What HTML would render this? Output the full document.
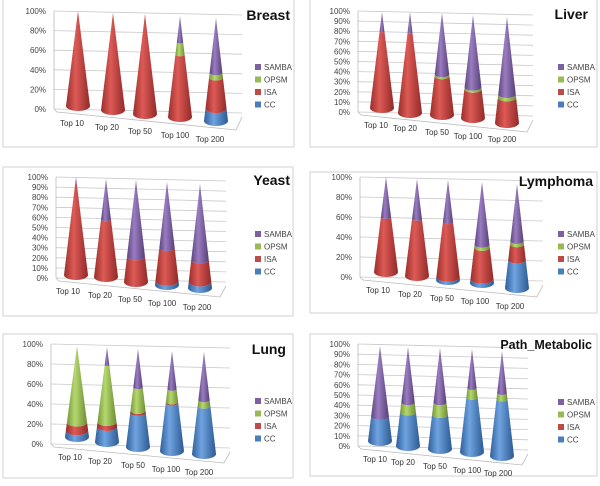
<!DOCTYPE html>
<html><head><meta charset="utf-8"><style>
html,body{margin:0;padding:0;background:#fff;}
svg{display:block;font-family:"Liberation Sans",sans-serif;}
</style></head><body>
<svg id="c" width="600" height="486" viewBox="0 0 600 486">
<defs>
<linearGradient id="g0" x1="0" x2="1"><stop offset="0" stop-color="#2f5f9a"/><stop offset="0.4" stop-color="#6fa3e0"/><stop offset="1" stop-color="#2d5a92"/></linearGradient>
<linearGradient id="g1" x1="0" x2="1"><stop offset="0" stop-color="#9a2e2b"/><stop offset="0.4" stop-color="#dd5a56"/><stop offset="1" stop-color="#922a28"/></linearGradient>
<linearGradient id="g2" x1="0" x2="1"><stop offset="0" stop-color="#78973a"/><stop offset="0.4" stop-color="#b4d86e"/><stop offset="1" stop-color="#6f8c34"/></linearGradient>
<linearGradient id="g3" x1="0" x2="1"><stop offset="0" stop-color="#5d4580"/><stop offset="0.4" stop-color="#9a7cc0"/><stop offset="1" stop-color="#574078"/></linearGradient>
</defs>
</svg>
<script>
const categories = ["Top 10","Top 20","Top 50","Top 100","Top 200"];
const seriesNames = ["SAMBA","OPSM","ISA","CC"];
const breastCC = [0,0,0,0,12];
const breastISA = [100,100,100,62,30];
const breastOPSM = [0,0,0,12,5];
const breastSAMBA = [0,0,0,26,53];
const liverCC = [0,0,0,0,0];
const liverISA = [80,80,38,28,24];
const liverOPSM = [0,0,2,2,3];
const liverSAMBA = [20,20,60,70,73];
const yeastCC = [0,0,0,4,6];
const yeastISA = [94,59,25,32,21];
const yeastOPSM = [0,0,0,0,0];
const yeastSAMBA = [6,41,75,64,73];
const lymphCC = [0,0,3,4,27];
const lymphISA = [58,59,55,31,15];
const lymphOPSM = [0,0,0,3,3];
const lymphSAMBA = [42,41,42,62,55];
const lungCC = [7,16,35,48,47];
const lungISA = [9,5,2,1,0];
const lungOPSM = [84,60,24,13,6];
const lungSAMBA = [0,19,39,38,47];
const pathCC = [26,34,34,53,54];
const pathISA = [0,0,0,0,0];
const pathOPSM = [0,10,12,9,6];
const pathSAMBA = [74,56,54,38,40];
const step20 = [0,20,40,60,80,100];
const step10 = [0,10,20,30,40,50,60,70,80,90,100];

const panels = [
 {name:"breast",title:"Breast",data:[breastCC,breastISA,breastOPSM,breastSAMBA],ticks:step20,box:[3,-2,291,149],lx:46,y0:109,y100:11,cx:[78,113,145,180,216],by:[106,110,114,117,121],ay:[11,13,14,16,18],leg:[255,67],tt:[290,20],cl:[[72,126],[107,130],[140,134],[175,138],[210,142]]},
 {name:"liver",title:"Liver",data:[liverCC,liverISA,liverOPSM,liverSAMBA],ticks:step10,box:[310,-2,287,149],lx:350,y0:112,y100:11,cx:[382,410,442,473,507],by:[108,113,115,118,123],ay:[12,12,13,15,17],leg:[558,67],tt:[588,19],cl:[[376,128],[405,131],[437,135],[468,139],[502,142]]},
 {name:"yeast",title:"Yeast",data:[yeastCC,yeastISA,yeastOPSM,yeastSAMBA],ticks:step10,box:[3,167,290,149],lx:48,y0:278,y100:177,cx:[76,106,136,167,200],by:[275,277,282,285,288],ay:[177,179,180,182,184],leg:[255,234],tt:[290,185],cl:[[68,294],[100,298],[130,302],[162,306],[197,310]]},
 {name:"lymphoma",title:"Lymphoma",data:[lymphCC,lymphISA,lymphOPSM,lymphSAMBA],ticks:step20,box:[310,172,287,141],lx:352,y0:277,y100:177,cx:[386,417,448,482,517],by:[272,276,280,283,288],ay:[177,179,180,182,184],leg:[558,234],tt:[593,186],cl:[[378,293],[410,297],[442,301],[475,304],[510,309]]},
 {name:"lung",title:"Lung",data:[lungCC,lungISA,lungOPSM,lungSAMBA],ticks:step20,box:[3,334,290,144],lx:43,y0:444,y100:344,cx:[77,107,138,172,204],by:[437,442,447,451,454],ay:[346,347,349,351,352],leg:[255,401],tt:[286,354],cl:[[70,460],[100,464],[133,468],[166,472],[199,475]]},
 {name:"path-metabolic",title:"Path_Metabolic",data:[pathCC,pathISA,pathOPSM,pathSAMBA],ticks:step10,box:[310,334,287,142],lx:350,y0:446,y100:344,cx:[380,408,440,472,502],by:[441,446,449,452,456],ay:[346,347,348,349,351],leg:[558,402],tt:[592,349],cl:[[375,462],[403,465],[435,469],[467,473],[498,476]]}
];
const NS="http://www.w3.org/2000/svg";
const svg=document.getElementById('c');
function mk(tag,attrs,parent,text){const e=document.createElementNS(NS,tag);for(const k in attrs)e.setAttribute(k,attrs[k]);if(text!==undefined)e.textContent=text;(parent||svg).appendChild(e);return e;}
const legendColors=["#7d60a0","#98b954","#be4b48","#4a7ebb"];
panels.forEach(p=>{
 const g=mk('g',{});
 
 
 const b=mk('rect',{x:p.box[0],y:p.box[1],width:p.box[2],height:p.box[3],fill:'#fff',stroke:'#d0d0d0','stroke-width':1},g);
 
 
 const ax=p.lx+8, wallR=p.cx[4]+26, drop=4;
 const yOf=v=>p.y0-(v/100)*(p.y0-p.y100);
 p.ticks.forEach(t=>{
  const y=yOf(t);
  const ln=mk('line',{x1:ax,y1:y,x2:wallR,y2:y+drop,stroke:'#c8c8c8','stroke-width':0.8},g);
  
  
  const tl=mk('text',{x:p.lx,y:y+3,'font-size':8,fill:'#444','text-anchor':'end'},g,t+'%');
  
  
 });
 const ax1=mk('line',{x1:ax,y1:p.y100,x2:ax,y2:p.y0,stroke:'#bbb','stroke-width':0.8},g);
 
 
 const fl=mk('polyline',{points:`${ax},${p.y0} ${ax+3},${p.y0+3} ${wallR-6},${p.by[4]+9} ${wallR},${p.y0+drop+4}`,fill:'none',stroke:'#bbb','stroke-width':0.8},g);
 
 
 for(let i=0;i<categories.length;i++){
  const cx=p.cx[i], base=p.by[i], H=base-p.ay[i], r=12, ry=5;
  let cum=0;
  for(let s=0;s<4;s++){
   const v=p.data[s][i]; if(v<=0) continue;
   const f0=cum/100, f1=Math.min(1,(cum+v)/100); cum+=v;
   const w0=r*(1-f0), w1=r*(1-f1), y0=base-f0*H, y1=base-f1*H, r0=ry*(1-f0), r1=ry*(1-f1);
   let d=`M${cx-w0},${y0} L${cx-w1},${y1} `;
   if(w1>0.01) d+=`A${w1},${r1} 0 0 0 ${cx+w1},${y1} `;
   d+=`L${cx+w0},${y0} A${w0},${r0} 0 0 1 ${cx-w0},${y0} Z`;
   const seg=mk('path',{d:d,fill:`url(#g${s})`},g);
   
   
  }
  const cl=mk('text',{x:p.cl[i][0],y:p.cl[i][1],'font-size':8,fill:'#333','text-anchor':'middle'},g,categories[i]);
  
  
 }
 seriesNames.forEach((n,k)=>{
  const y=p.leg[1]+k*12.5;
  const sq=mk('rect',{x:p.leg[0],y:y-3,width:6,height:6,fill:legendColors[k]},g);
  
  
  const lt=mk('text',{x:p.leg[0]+9,y:y+3,'font-size':8,fill:'#444'},g,n);
  
  
 });
 const tt=mk('text',{x:p.tt[0],y:p.tt[1],'font-size':p.title.length>10?12.5:14,'font-weight':'bold',fill:'#111','text-anchor':'end'},g,p.title);
 
 
});
</script>
</body></html>
